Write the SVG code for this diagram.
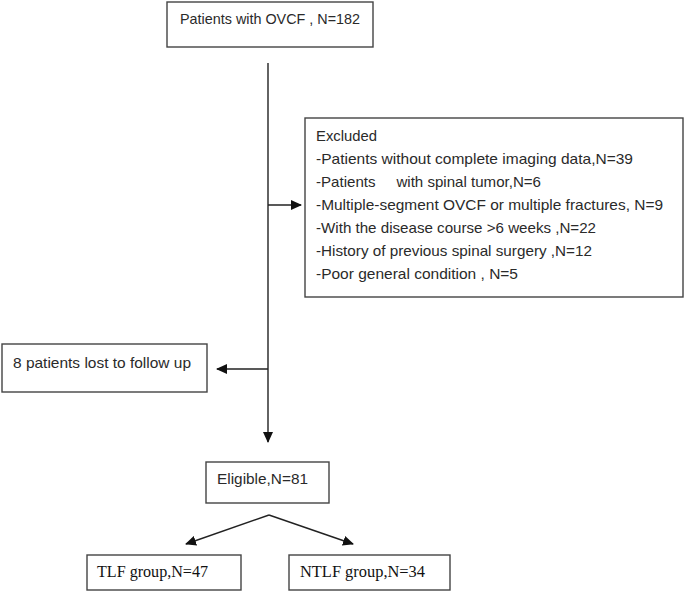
<svg xmlns="http://www.w3.org/2000/svg" width="685" height="592" viewBox="0 0 685 592">
<defs>
<marker id="ah" markerWidth="11" markerHeight="10" refX="10" refY="5" orient="auto" markerUnits="userSpaceOnUse">
<path d="M0,0 L11,5 L0,10 Z" fill="#111"/>
</marker>
<style>
.box{fill:#fff;stroke:#444;stroke-width:1.4}
.t{font-family:"Liberation Sans",Arial,sans-serif;font-size:15px;fill:#2a2a2a;white-space:pre}
.s{font-family:"Liberation Serif","Times New Roman",serif;font-size:16px;fill:#111}
.ln{stroke:#222;stroke-width:1.4;fill:none}
</style>
</defs>
<rect width="685" height="592" fill="#fff"/>
<g id="connectors">
<line class="ln" x1="268" y1="63" x2="268" y2="442" marker-end="url(#ah)"/>
<line class="ln" x1="268" y1="205" x2="301" y2="205" marker-end="url(#ah)"/>
<line class="ln" x1="268" y1="369" x2="217" y2="369" marker-end="url(#ah)"/>
<line class="ln" x1="269" y1="515" x2="186" y2="544" marker-end="url(#ah)"/>
<line class="ln" x1="269" y1="515" x2="353" y2="544" marker-end="url(#ah)"/>
</g>
<g id="n-patients">
<rect class="box" x="167" y="2" width="206" height="45"/>
<text class="t" x="180" y="24" textLength="180" lengthAdjust="spacingAndGlyphs">Patients with OVCF , N=182</text>
</g>
<g id="n-excluded">
<rect class="box" x="305" y="118" width="378" height="179"/>
<text class="t" x="316" y="141" textLength="61" lengthAdjust="spacingAndGlyphs">Excluded</text>
<text class="t" x="316" y="164" textLength="317" lengthAdjust="spacingAndGlyphs">-Patients without complete imaging data,N=39</text>
<text class="t" x="316" y="187" xml:space="preserve" textLength="225" lengthAdjust="spacingAndGlyphs">-Patients     with spinal tumor,N=6</text>
<text class="t" x="316" y="210" textLength="347" lengthAdjust="spacingAndGlyphs">-Multiple-segment OVCF or multiple fractures, N=9</text>
<text class="t" x="316" y="233" textLength="280" lengthAdjust="spacingAndGlyphs">-With the disease course &gt;6 weeks ,N=22</text>
<text class="t" x="316" y="256" textLength="276" lengthAdjust="spacingAndGlyphs">-History of previous spinal surgery ,N=12</text>
<text class="t" x="316" y="279" textLength="202" lengthAdjust="spacingAndGlyphs">-Poor general condition , N=5</text>
</g>
<g id="n-lost">
<rect class="box" x="2" y="344" width="205" height="48"/>
<text class="t" x="13" y="368" textLength="178" lengthAdjust="spacingAndGlyphs">8 patients lost to follow up</text>
</g>
<g id="n-eligible">
<rect class="box" x="206" y="462" width="123" height="41"/>
<text class="t" x="217" y="484" textLength="91" lengthAdjust="spacingAndGlyphs">Eligible,N=81</text>
</g>
<g id="n-tlf">
<rect class="box" x="87" y="555" width="154" height="35"/>
<text class="s" x="97" y="577" textLength="111" lengthAdjust="spacingAndGlyphs">TLF group,N=47</text>
</g>
<g id="n-ntlf">
<rect class="box" x="289" y="555" width="161" height="35"/>
<text class="s" x="300" y="577" textLength="125" lengthAdjust="spacingAndGlyphs">NTLF group,N=34</text>
</g>
</svg>
